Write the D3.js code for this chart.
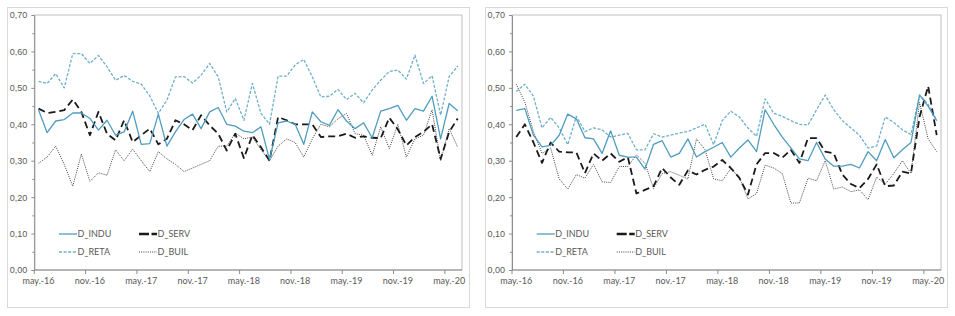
<!DOCTYPE html>
<html>
<head>
<meta charset="utf-8">
<script src="https://cdn.jsdelivr.net/npm/d3@7"></script>
<style>
  body { margin: 0; background: #fff; }
  svg { display: block; font-family: Lato, "Liberation Sans", sans-serif; }
</style>
</head>
<body>
<svg id="chart" width="955" height="316"></svg>
<script>
// months of both panels: may 2016 .. june 2020
const months = d3.timeMonth.range(new Date(2016, 4, 1), new Date(2020, 6, 1));
const tickLabels = ["may.-16", "nov.-16", "may.-17", "nov.-17", "may.-18", "nov.-18", "may.-19", "nov.-19", "may.-20"];
const yTicks = [0, 0.1, 0.2, 0.3, 0.4, 0.5, 0.6, 0.7];
const seriesNames = ["D_INDU", "D_SERV", "D_RETA", "D_BUIL"];

// left panel
const indu1 = [0.439, 0.377, 0.409, 0.413, 0.431, 0.431, 0.416, 0.384, 0.411, 0.370,
  0.379, 0.436, 0.345, 0.347, 0.428, 0.340, 0.379, 0.413, 0.428, 0.388,
  0.434, 0.446, 0.400, 0.395, 0.381, 0.377, 0.393, 0.303, 0.404, 0.409,
  0.400, 0.345, 0.434, 0.407, 0.397, 0.440, 0.409, 0.388, 0.404, 0.363,
  0.436, 0.443, 0.452, 0.411, 0.443, 0.436, 0.477, 0.360, 0.457, 0.437];
const serv1 = [0.443, 0.431, 0.434, 0.439, 0.468, 0.434, 0.370, 0.434, 0.374, 0.356,
  0.411, 0.351, 0.370, 0.388, 0.345, 0.360, 0.411, 0.400, 0.384, 0.425,
  0.397, 0.374, 0.328, 0.374, 0.307, 0.370, 0.337, 0.300, 0.420, 0.411,
  0.400, 0.400, 0.400, 0.365, 0.367, 0.367, 0.374, 0.363, 0.367, 0.363,
  0.362, 0.418, 0.386, 0.342, 0.365, 0.379, 0.400, 0.305, 0.379, 0.416];
const reta1 = [0.518, 0.512, 0.539, 0.500, 0.594, 0.594, 0.567, 0.589, 0.558, 0.521,
  0.534, 0.518, 0.510, 0.478, 0.430, 0.466, 0.530, 0.531, 0.513, 0.535,
  0.567, 0.530, 0.434, 0.471, 0.411, 0.512, 0.430, 0.400, 0.532, 0.532,
  0.563, 0.578, 0.530, 0.475, 0.477, 0.496, 0.468, 0.485, 0.459, 0.494,
  0.521, 0.545, 0.549, 0.524, 0.590, 0.512, 0.533, 0.425, 0.531, 0.560];
const buil1 = [0.293, 0.310, 0.340, 0.290, 0.230, 0.318, 0.243, 0.267, 0.260, 0.330,
  0.300, 0.332, 0.300, 0.270, 0.325, 0.305, 0.290, 0.270, 0.280, 0.290,
  0.300, 0.340, 0.340, 0.376, 0.360, 0.365, 0.330, 0.300, 0.340, 0.360,
  0.350, 0.310, 0.360, 0.400, 0.393, 0.415, 0.430, 0.374, 0.370, 0.315,
  0.393, 0.333, 0.400, 0.310, 0.360, 0.370, 0.440, 0.300, 0.388, 0.337];

// right panel
const indu2 = [0.438, 0.443, 0.370, 0.338, 0.342, 0.370, 0.428, 0.415, 0.363, 0.360,
  0.320, 0.382, 0.315, 0.310, 0.310, 0.277, 0.345, 0.355, 0.310, 0.320,
  0.360, 0.310, 0.325, 0.337, 0.350, 0.310, 0.335, 0.357, 0.325, 0.440,
  0.400, 0.365, 0.335, 0.305, 0.300, 0.350, 0.305, 0.285, 0.285, 0.290,
  0.280, 0.325, 0.300, 0.358, 0.308, 0.330, 0.350, 0.480, 0.450, 0.410];
const serv2 = [0.365, 0.400, 0.350, 0.294, 0.350, 0.325, 0.323, 0.323, 0.266, 0.320,
  0.300, 0.320, 0.297, 0.310, 0.210, 0.220, 0.230, 0.280, 0.254, 0.234,
  0.273, 0.262, 0.275, 0.284, 0.302, 0.280, 0.253, 0.207, 0.290, 0.321,
  0.321, 0.308, 0.330, 0.294, 0.362, 0.362, 0.325, 0.320, 0.262, 0.236,
  0.225, 0.250, 0.290, 0.230, 0.232, 0.270, 0.265, 0.420, 0.505, 0.370];
const reta2 = [0.490, 0.510, 0.477, 0.390, 0.419, 0.390, 0.344, 0.422, 0.380, 0.390,
  0.385, 0.365, 0.370, 0.375, 0.330, 0.330, 0.374, 0.365, 0.370, 0.376,
  0.380, 0.390, 0.400, 0.344, 0.410, 0.436, 0.420, 0.390, 0.367, 0.470,
  0.430, 0.422, 0.410, 0.400, 0.398, 0.440, 0.480, 0.440, 0.410, 0.390,
  0.370, 0.335, 0.340, 0.420, 0.405, 0.385, 0.372, 0.480, 0.455, 0.410];
const buil2 = [0.510, 0.460, 0.380, 0.320, 0.335, 0.250, 0.222, 0.262, 0.252, 0.290,
  0.242, 0.240, 0.284, 0.284, 0.316, 0.293, 0.224, 0.265, 0.270, 0.260,
  0.250, 0.360, 0.330, 0.250, 0.245, 0.278, 0.255, 0.195, 0.210, 0.288,
  0.280, 0.265, 0.184, 0.184, 0.252, 0.245, 0.300, 0.222, 0.228, 0.215,
  0.220, 0.193, 0.255, 0.236, 0.265, 0.300, 0.265, 0.460, 0.360, 0.325];

const styles = {
  D_INDU: { color: "#4f9cbf", width: 1.3, dash: null },
  D_SERV: { color: "#1a1a1a", width: 1.8, dash: "7,4" },
  D_RETA: { color: "#6fb0cb", width: 1.3, dash: "3,1.6" },
  D_BUIL: { color: "#404040", width: 1, dash: "1,1.2" }
};

const svg = d3.select("#chart");
const fmt = v => d3.format(".2f")(v).replace(".", ",");

function drawPanel(frameX, plotLeft, plotRight, series) {
  const g = svg.append("g");
  const top = 15, bottom = 270;

  g.append("rect")
    .attr("x", frameX + 0.5).attr("y", 7.5)
    .attr("width", 462).attr("height", 300)
    .attr("fill", "#fff").attr("stroke", "#d9d9d9");

  const x = d3.scaleBand().domain(months).range([plotLeft, plotRight]);
  const y = d3.scaleLinear().domain([0, 0.7]).range([bottom, top]);

  g.append("rect")
    .attr("x", plotLeft).attr("y", top)
    .attr("width", plotRight - plotLeft).attr("height", bottom - top)
    .attr("fill", "none").attr("stroke", "#b0b0b0").attr("stroke-width", 0.8);

  // y axis with minor ticks
  const yMinor = d3.range(0.05, 0.7, 0.1);
  g.append("g")
    .attr("transform", `translate(${plotLeft},0)`)
    .call(d3.axisLeft(y).tickValues(yMinor).tickSize(2).tickFormat(""))
    .call(a => a.select(".domain").remove())
    .selectAll("line").attr("stroke", "#8c8c8c");
  const yAxis = g.append("g")
    .attr("transform", `translate(${plotLeft},0)`)
    .call(d3.axisLeft(y).tickValues(yTicks).tickSize(3).tickPadding(4).tickFormat(fmt).tickSizeOuter(0));
  yAxis.select(".domain").attr("stroke", "#8c8c8c");
  yAxis.selectAll("line").attr("stroke", "#8c8c8c");
  yAxis.selectAll("text").attr("fill", "#595959").style("font-size", "9px");

  // x axis: ticks on month boundaries every 6 months, labels centred on the month
  const tickMonths = months.filter(m => m.getMonth() === 4 || m.getMonth() === 10);
  g.append("line")
    .attr("x1", plotLeft).attr("x2", plotRight)
    .attr("y1", bottom).attr("y2", bottom)
    .attr("stroke", "#8c8c8c");
  g.selectAll(".xtick")
    .data(tickMonths)
    .join("line")
    .attr("x1", d => x(d)).attr("x2", d => x(d))
    .attr("y1", bottom).attr("y2", bottom + 4)
    .attr("stroke", "#8c8c8c");
  g.selectAll(".xlab")
    .data(tickMonths)
    .join("text")
    .attr("x", d => x(d) + x.bandwidth() / 2)
    .attr("y", bottom + 14)
    .attr("text-anchor", "middle")
    .attr("fill", "#595959")
    .style("font-size", "9px")
    .text((d, i) => tickLabels[i]);

  // lines, drawn so that the light ones sit under the dark ones
  const line = d3.line()
    .x((d, i) => x(months[i]) + x.bandwidth() / 2)
    .y(d => y(d));
  ["D_BUIL", "D_RETA", "D_SERV", "D_INDU"].forEach(name => {
    const s = styles[name];
    g.append("path")
      .datum(series[name])
      .attr("d", line)
      .attr("fill", "none")
      .attr("stroke", s.color)
      .attr("stroke-width", s.width)
      .attr("stroke-dasharray", s.dash)
      .attr("stroke-linejoin", "round");
  });

  // legend
  const leg = g.append("g").attr("transform", `translate(${plotLeft + 24.7},0)`);
  seriesNames.forEach((name, i) => {
    const s = styles[name];
    const lx = (i % 2) * 80;
    const ly = i < 2 ? 234 : 252;
    leg.append("line")
      .attr("x1", lx).attr("x2", lx + 18)
      .attr("y1", ly).attr("y2", ly)
      .attr("stroke", s.color)
      .attr("stroke-width", name === "D_SERV" ? 2.4 : s.width)
      .attr("stroke-dasharray", name === "D_SERV" ? "10,2.5" : s.dash);
    leg.append("text")
      .attr("x", lx + 18.5).attr("y", ly + 3)
      .attr("fill", "#595959")
      .style("font-size", "9px")
      .text(name);
  });
}

drawPanel(7, 34.3, 462, { D_INDU: indu1, D_SERV: serv1, D_RETA: reta1, D_BUIL: buil1 });
drawPanel(485, 512, 941, { D_INDU: indu2, D_SERV: serv2, D_RETA: reta2, D_BUIL: buil2 });
</script>
</body>
</html>
